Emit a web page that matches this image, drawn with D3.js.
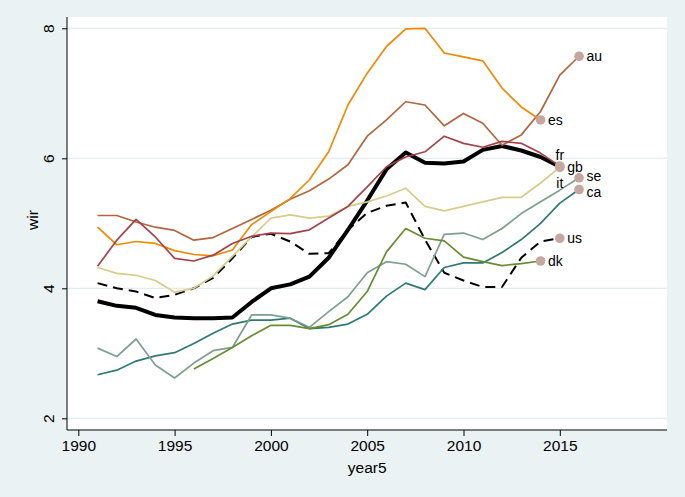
<!DOCTYPE html>
<html><head><meta charset="utf-8">
<script src="https://cdn.jsdelivr.net/npm/d3@7"></script>
<style>html,body{margin:0;padding:0;background:#EAF2F3;}svg{display:block;}</style>
</head><body>
<script>
const years = d3.range(1991, 2017);
const gb = [3.80,3.73,3.70,3.59,3.55,3.54,3.54,3.55,3.79,4.00,4.06,4.18,4.47,4.90,5.35,5.83,6.09,5.93,5.92,5.95,6.13,6.19,6.12,6.02,5.87,null];
const us = [4.08,4.00,3.95,3.85,3.90,4.00,4.16,4.46,4.79,4.84,4.72,4.53,4.54,4.90,5.16,5.27,5.32,4.75,4.24,4.12,4.02,4.02,4.47,4.72,4.77,null];
const es = [4.94,4.67,4.72,4.69,4.58,4.52,4.50,4.59,4.98,5.18,5.38,5.67,6.10,6.82,7.31,7.72,7.99,8.00,7.62,7.56,7.50,7.08,6.79,6.59,null,null];
const au = [5.12,5.12,5.02,4.94,4.89,4.74,4.78,4.92,5.06,5.20,5.37,5.50,5.68,5.90,6.34,6.59,6.87,6.82,6.50,6.69,6.54,6.20,6.36,6.72,7.28,7.57];
const fr = [4.34,4.74,5.06,4.79,4.46,4.42,4.51,4.69,4.80,4.85,4.84,4.90,5.08,5.26,5.56,5.87,6.02,6.10,6.34,6.23,6.17,6.26,6.23,6.08,5.88,null];
const it = [4.32,4.23,4.20,4.12,3.94,4.00,4.19,4.49,4.79,5.08,5.13,5.08,5.11,5.26,5.33,5.42,5.54,5.26,5.19,5.26,5.33,5.40,5.40,5.62,5.86,null];
const se = [3.08,2.95,3.22,2.82,2.62,2.85,3.04,3.09,3.59,3.59,3.54,3.40,3.64,3.87,4.24,4.41,4.37,4.18,4.83,4.85,4.75,4.92,5.15,5.33,5.51,5.70];
const ca = [2.67,2.74,2.88,2.96,3.01,3.15,3.31,3.45,3.51,3.51,3.54,3.38,3.40,3.45,3.60,3.88,4.08,3.98,4.32,4.39,4.39,4.55,4.75,5.00,5.31,5.52];
const dk = [null,null,null,null,null,2.76,2.92,3.09,3.27,3.43,3.43,3.38,3.44,3.60,3.95,4.56,4.92,4.77,4.73,4.48,4.41,4.35,4.38,4.42,null,null];

const xTicks = [1990,1995,2000,2005,2010,2015];
const yTicks = [2,4,6,8];

const series = [
  {name:"gb", values:gb, color:"#000000", width:4, dash:null},
  {name:"us", values:us, color:"#000000", width:2, dash:"10,6"},
  {name:"ca", values:ca, color:"#2E7A6E", width:1.7, dash:null},
  {name:"se", values:se, color:"#7E9E90", width:1.7, dash:null},
  {name:"dk", values:dk, color:"#678C34", width:1.7, dash:null},
  {name:"it", values:it, color:"#D6CC8C", width:1.7, dash:null},
  {name:"au", values:au, color:"#B0663F", width:1.7, dash:null},
  {name:"es", values:es, color:"#EE8A05", width:1.7, dash:null},
  {name:"fr", values:fr, color:"#A4424A", width:1.7, dash:null}
];
// label placement: pos "r" right, "t" above, "b" below; extra vertical nudge
const labelPos = {gb:"r", us:"r", ca:"r", se:"r", dk:"r", it:"b", au:"r", es:"r", fr:"t"};
const labelNudge = {se:-2, ca:2};

const W = 685, H = 497;
const svg = d3.select("body").append("svg").attr("width", W).attr("height", H)
  .style("font-family", "'Liberation Sans', Arial, Helvetica, sans-serif");
svg.append("rect").attr("width", W).attr("height", H).attr("fill", "#EAF2F3");

const plot = {l:67, r:667, t:17, b:430};
const x = d3.scaleLinear().domain([1990, 2015]).range([78.3, 559.8]);
const y = d3.scaleLinear().domain([2, 8]).range([418.3, 28.3]);

svg.append("rect").attr("x", plot.l).attr("y", plot.t)
  .attr("width", plot.r - plot.l).attr("height", plot.b - plot.t).attr("fill", "#ffffff");

// gridlines
svg.append("g").selectAll("line").data(yTicks).join("line")
  .attr("x1", plot.l).attr("x2", plot.r)
  .attr("y1", d => y(d)).attr("y2", d => y(d))
  .attr("stroke", "#E3EDEF").attr("stroke-width", 1.2);

// y axis
const yAxis = d3.axisLeft(y).tickValues(yTicks).tickSize(5).tickPadding(3).tickFormat(d3.format("d"));
const gy = svg.append("g").attr("transform", `translate(${plot.l},0)`).call(yAxis);
gy.select(".domain").attr("d", `M0,${plot.t}V${plot.b}`).attr("stroke", "#000");
gy.selectAll(".tick line").attr("stroke", "#000");
gy.selectAll(".tick text")
  .attr("font-size", 15.5).attr("fill", "#000")
  .attr("x", null).attr("dy", null)
  .attr("text-anchor", "middle")
  .attr("transform", "translate(-13.5,0) rotate(-90)");

// x axis
const xAxis = d3.axisBottom(x).tickValues(xTicks).tickSize(6).tickPadding(4).tickFormat(d3.format("d"));
const gx = svg.append("g").attr("transform", `translate(0,${plot.b})`).call(xAxis);
gx.select(".domain").attr("d", `M${plot.l},0H${plot.r}`).attr("stroke", "#000");
gx.selectAll(".tick line").attr("stroke", "#000");
gx.selectAll(".tick text").attr("font-size", 15.5).attr("fill", "#000");

// axis titles
svg.append("text").attr("x", x(2005)).attr("y", 473).attr("text-anchor", "middle")
  .attr("font-size", 15.5).text("year5");
svg.append("text").attr("transform", "translate(38,220) rotate(-90)").attr("text-anchor", "middle")
  .attr("font-size", 15.5).text("wir");

// lines
const line = d3.line().defined(d => d.v != null).x(d => x(d.year)).y(d => y(d.v));
const lg = svg.append("g").attr("fill", "none").attr("stroke-linejoin", "round");
series.forEach(s => {
  const pts = years.map((yr, i) => ({year: yr, v: s.values[i]}));
  lg.append("path").attr("d", line(pts))
    .attr("stroke", s.color).attr("stroke-width", s.width)
    .attr("stroke-dasharray", s.dash);
});

// end markers and labels
const mg = svg.append("g");
function lastIdx(vals){ let li = -1; vals.forEach((v, i) => { if (v != null) li = i; }); return li; }
series.forEach(s => {
  const li = lastIdx(s.values);
  mg.append("circle").attr("cx", x(years[li])).attr("cy", y(s.values[li])).attr("r", 4.8).attr("fill", "#C6A7A0");
});
series.forEach(s => {
  const li = lastIdx(s.values);
  const cx = x(years[li]), cy = y(s.values[li]);
  const p = labelPos[s.name];
  const n = labelNudge[s.name] || 0;
  const t = mg.append("text").attr("font-size", 14).attr("fill", "#000").text(s.name);
  if (p === "r") t.attr("x", cx + 7.5).attr("y", cy + 5 + n);
  else if (p === "t") t.attr("x", cx).attr("y", cy - 6).attr("text-anchor", "middle");
  else t.attr("x", cx).attr("y", cy + 21).attr("text-anchor", "middle");
});
</script>
</body></html>
